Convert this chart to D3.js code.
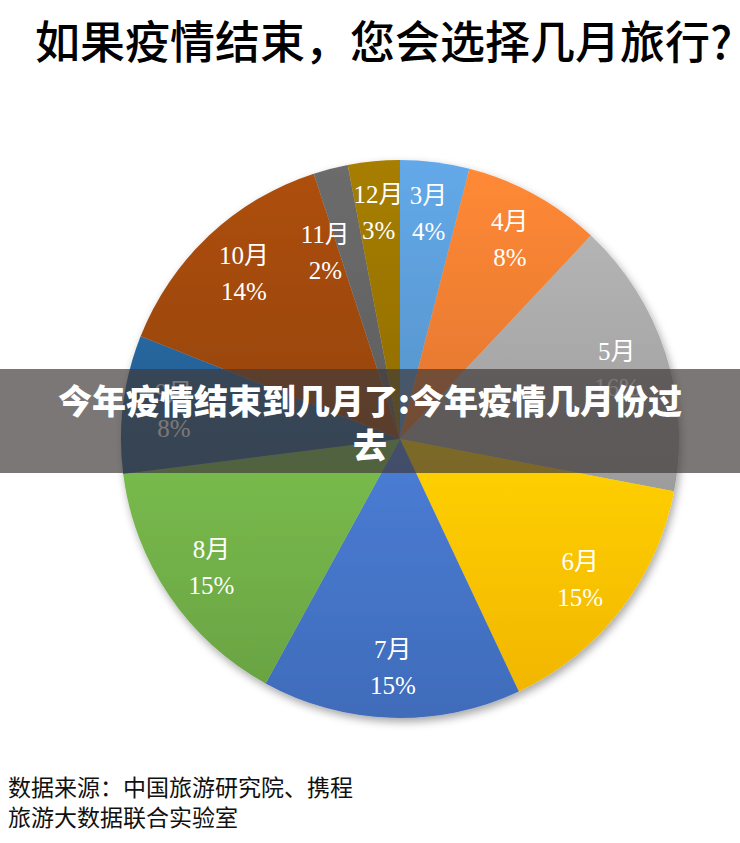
<!DOCTYPE html>
<html>
<head>
<meta charset="utf-8">
<script src="https://cdn.jsdelivr.net/npm/d3@7"></script>
<style>
	html, body { margin: 0; padding: 0; background: #fff; }
	svg { display: block; }
</style>
</head>
<body>
<svg id="plot" width="740" height="843"></svg>
<script>

const MONTHS = ['3月', '4月', '5月', '6月', '7月', '8月', '9月', '10月', '11月', '12月'];
const SHARES = [4, 8, 16, 15, 15, 15, 8, 14, 2, 3];
const COLORS = ['#5B9BD5', '#ED7D31', '#A5A5A5', '#FFC000', '#4472C4', '#70AD47',
	'#255E91', '#9E480E', '#636363', '#997300'];

const TITLE = '如果疫情结束，您会选择几月旅行?';
const SOURCE_LINES = ['数据来源：中国旅游研究院、携程', '旅游大数据联合实验室'];
const BANNER_LINES = ['今年疫情结束到几月了:今年疫情几月份过', '去'];

// the 11月 label is pushed inward in the picture, it would collide with 12月 otherwise
const LABEL_NUDGE = { '11月': [-18, 34] };

const data = MONTHS.map((m, i) => {
	return { 'name': m, 'value': SHARES[i], 'color': COLORS[i] };
});

class PieChart {

	constructor(svg_id, dataset) {
		this.data = dataset;
		this.cx = 400;
		this.cy = 439;
		this.r = 279;

		var svg = d3.select('#' + svg_id);
		this.defs = svg.append('defs');
		this.plot(svg);
	}

	plot(svg) {

		// Title
		svg.append('text')
			.attr('x', 35)
			.attr('y', 59)
			.style('font-family', '"Noto Sans CJK SC", sans-serif')
			.style('font-size', '45px')
			.style('font-weight', 500)
			.style('fill', '#000')
			.text(TITLE);

		// shadow under the pie
		var shadow = this.defs.append('filter')
			.attr('id', 'shadow')
			.attr('x', '-10%').attr('y', '-10%')
			.attr('width', '120%').attr('height', '120%');
		shadow.append('feDropShadow')
			.attr('dx', 2).attr('dy', 4)
			.attr('stdDeviation', 4)
			.attr('flood-color', '#000')
			.attr('flood-opacity', 0.35);

		// gradient for each slice, lighter on top
		var grads = this.defs.selectAll('linearGradient')
			.data(this.data)
			.enter().append('linearGradient')
			.attr('id', (d, i) => 'g' + i)
			.attr('x1', 0).attr('y1', 0).attr('x2', 0).attr('y2', 1);
		grads.append('stop').attr('offset', '0%')
			.attr('stop-color', d => d3.color(d.color).brighter(0.25));
		grads.append('stop').attr('offset', '100%')
			.attr('stop-color', d => d3.color(d.color).darker(0.15));

		var pie = d3.pie().sort(null).value(d => d.value);
		var arcs = pie(this.data);

		var arc = d3.arc().innerRadius(0).outerRadius(this.r);
		var labelArc = d3.arc().innerRadius(228).outerRadius(228);

		var g = svg.append('g')
			.attr('transform', 'translate(' + this.cx + ',' + this.cy + ')');

		g.append('g')
			.attr('filter', 'url(#shadow)')
			.selectAll('path')
			.data(arcs)
			.enter().append('path')
			.attr('d', arc)
			.style('fill', (d, i) => 'url(#g' + i + ')');

		// labels: month on top, percentage below
		var labels = g.append('g').selectAll('text')
			.data(arcs)
			.enter().append('text')
			.attr('transform', function(d) {
				var c = labelArc.centroid(d);
				var n = LABEL_NUDGE[d.data.name] || [0, 0];
				return 'translate(' + (c[0] + n[0]) + ',' + (c[1] + n[1]) + ')';
			})
			.attr('text-anchor', 'middle')
			.style('font-family', '"Liberation Serif", "Noto Sans CJK SC", serif')
			.style('font-size', '25px')
			.style('fill', '#fff');
		labels.append('tspan')
			.attr('x', 0).attr('y', -9)
			.text(d => d.data.name);
		labels.append('tspan')
			.attr('x', 0).attr('y', 27)
			.text(d => d.data.value + '%');

		// Source
		svg.append('g').selectAll('text')
			.data(SOURCE_LINES)
			.enter().append('text')
			.attr('x', 8)
			.attr('y', (d, i) => 796 + i * 30)
			.style('font-family', '"Noto Sans CJK SC", sans-serif')
			.style('font-size', '23px')
			.style('fill', '#111')
			.text(d => d);

		// dark banner over the middle
		svg.append('rect')
			.attr('x', 0).attr('y', 369)
			.attr('width', 740).attr('height', 104)
			.style('fill', 'rgba(64,58,58,0.69)');

		svg.append('g').selectAll('text')
			.data(BANNER_LINES)
			.enter().append('text')
			.attr('x', 370)
			.attr('y', (d, i) => 414 + i * 44)
			.attr('text-anchor', 'middle')
			.style('font-family', '"Noto Sans CJK SC", sans-serif')
			.style('font-weight', 900)
			.style('font-size', '34px')
			.style('fill', '#fff')
			.text(d => d);
	}
}

const plot = new PieChart('plot', data);

</script>
</body>
</html>
